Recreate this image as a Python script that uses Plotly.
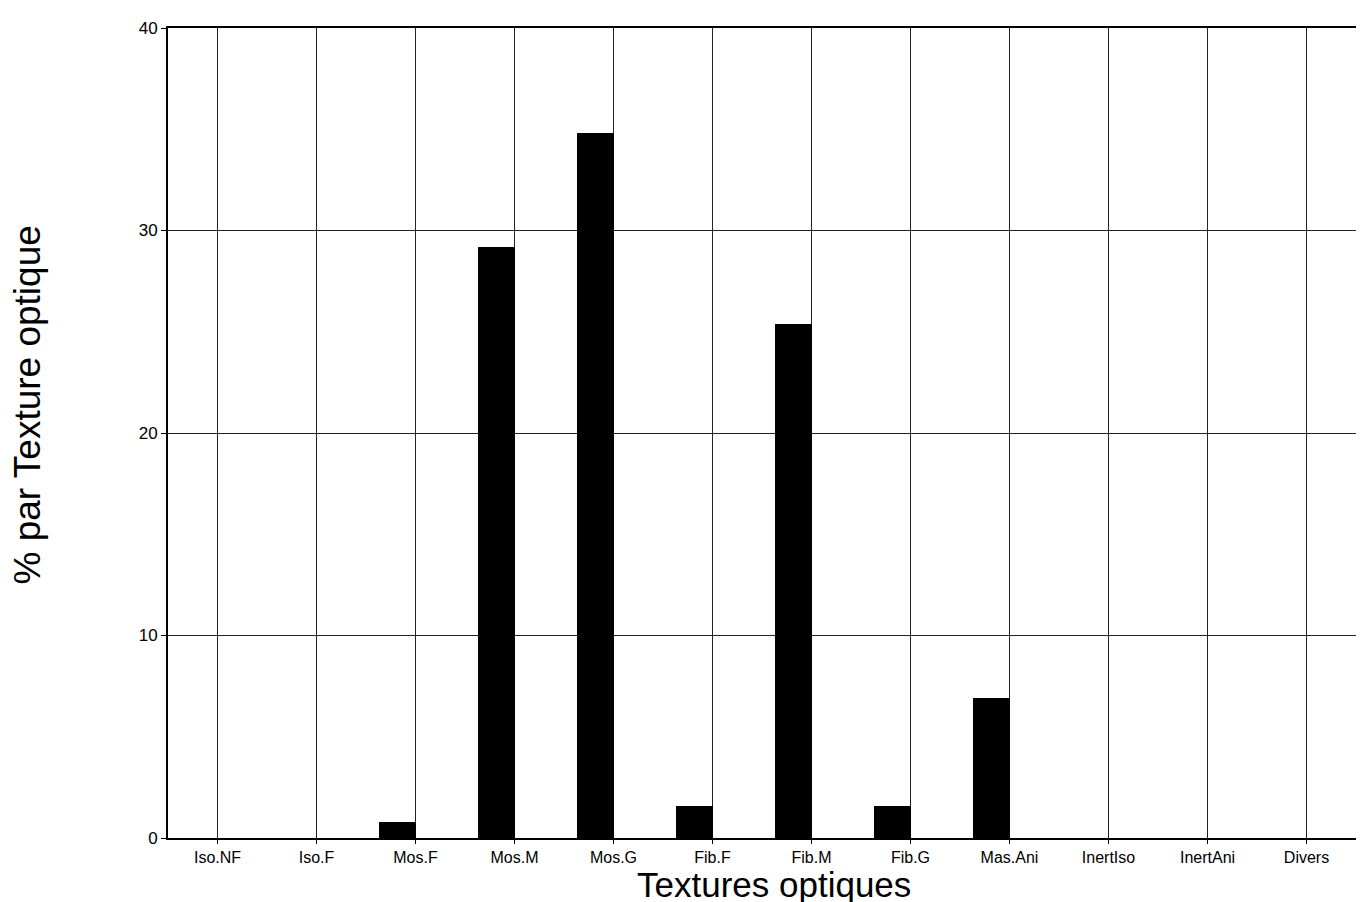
import plotly.graph_objects as go

# categories and values
textures = ["Iso.NF", "Iso.F", "Mos.F", "Mos.M", "Mos.G", "Fib.F",
            "Fib.M", "Fib.G", "Mas.Ani", "InertIso", "InertAni", "Divers"]
pourcent = [0, 0, 0.8, 29.2, 34.8, 1.6, 25.4, 1.6, 6.9, 0, 0, 0]
y_ticks = [0, 10, 20, 30, 40]

fig = go.Figure()
fig.add_trace(go.Bar(
    x=textures, y=pourcent,
    marker=dict(color="black", line=dict(width=0)),
    width=0.37, offset=-0.37,
    showlegend=False,
))

font = "Liberation Sans, Arial, sans-serif"

# page body adds ~8px, margins compensate for it
fig.update_layout(
    width=1364, height=902,
    margin=dict(l=160, r=16, t=20, b=72, autoexpand=False),
    paper_bgcolor="white", plot_bgcolor="white",
    font=dict(family=font, color="black"),
    bargap=0,
)
fig.update_xaxes(
    type="category", range=[-0.5, 11.5], automargin=False,
    showline=True, linecolor="black", linewidth=2, mirror=True,
    showgrid=True, gridcolor="#222", gridwidth=1,
    ticks="outside", ticklen=4, tickcolor="black",
    tickfont=dict(size=16),
)
fig.update_yaxes(
    range=[0, 40], tickvals=y_ticks, automargin=False,
    showline=True, linecolor="black", linewidth=2, mirror=True,
    showgrid=True, gridcolor="#222", gridwidth=1,
    ticks="outside", ticklen=5, tickcolor="black",
    tickfont=dict(size=17),
    zeroline=False,
)

# axis titles placed as annotations to hold the scan's positions
fig.add_annotation(text="Textures optiques", xref="paper", yref="paper",
                   x=0.51, y=-0.057, yanchor="middle", showarrow=False,
                   font=dict(size=35))
fig.add_annotation(text="% par Texture optique", xref="paper", yref="paper",
                   x=-0.118, y=0.535, xanchor="center", yanchor="middle",
                   textangle=-90, showarrow=False, font=dict(size=37))

fig.write_html("out.html")
